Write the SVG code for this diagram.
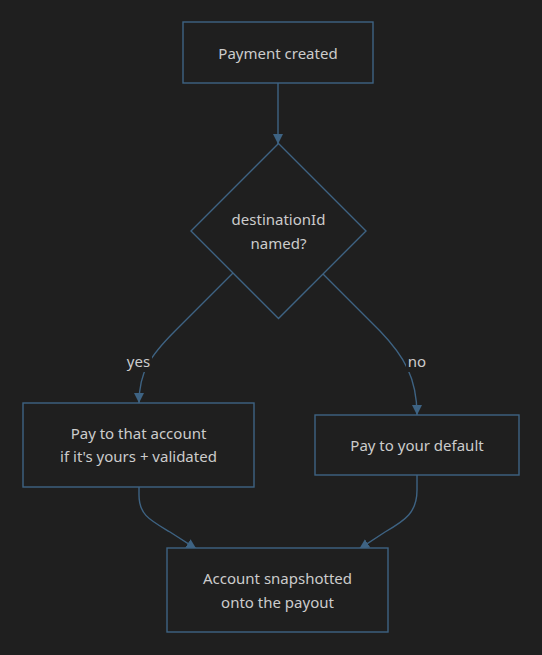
<svg xmlns="http://www.w3.org/2000/svg" width="542" height="655" viewBox="0 0 542 655">
<defs>
<style>
.bg{fill:#1f1f1f}
.node{fill:#1f1f1f;stroke:#3e6383;stroke-width:1.4}
.edge{fill:none;stroke:#3e6383;stroke-width:1.4}
.t{font-family:"Noto Sans","Open Sans",sans-serif;font-size:15px;fill:#cccccc;text-anchor:middle}
.lbl{fill:#1f1f1f}
</style>
<marker id="arr" viewBox="0 0 10 10" refX="10" refY="5" markerWidth="10" markerHeight="10" markerUnits="userSpaceOnUse" orient="auto">
<path d="M0,0 L10,5 L0,10 z" fill="#3e6383"/>
</marker>
</defs>
<rect class="bg" x="0" y="0" width="542" height="655"/>
<g id="connectors">
<path class="edge" d="M278,83 L278,144" marker-end="url(#arr)"/>
<path class="edge" d="M233,273 L175,331 C150,356 139,372 139,403" marker-end="url(#arr)"/>
<path class="edge" d="M323,274 L380,331 C404,356 417,378 417,415" marker-end="url(#arr)"/>
<path class="edge" d="M139,487 L139,495 C139,515 150,520 170,532 L196.3,548.8" marker-end="url(#arr)"/>
<path class="edge" d="M417,475 L417,490 C417,512 406,520 385,532 L359.3,548.8" marker-end="url(#arr)"/>
<rect class="lbl" x="125" y="352" width="27" height="20"/>
<text class="t" x="138.5" y="367">yes</text>
<rect class="lbl" x="406" y="352" width="22" height="20"/>
<text class="t" x="417" y="367">no</text>
</g>
<g id="node-created">
<rect class="node" x="183" y="22" width="190" height="61"/>
<text class="t" x="278" y="59">Payment created</text>
</g>
<g id="node-decision">
<polygon class="node" points="278.5,143.5 366,231 278.5,318.5 191,231"/>
<text class="t" x="278.5" y="224.5">destinationId</text>
<text class="t" x="278.5" y="248.5">named?</text>
</g>
<g id="node-that">
<rect class="node" x="23" y="403" width="231" height="84"/>
<text class="t" x="138.5" y="439">Pay to that account</text>
<text class="t" x="138.5" y="462">if it's yours + validated</text>
</g>
<g id="node-default">
<rect class="node" x="315" y="415" width="204" height="60"/>
<text class="t" x="417" y="450.5">Pay to your default</text>
</g>
<g id="node-snapshot">
<rect class="node" x="167" y="548" width="221" height="84"/>
<text class="t" x="277.5" y="583.5">Account snapshotted</text>
<text class="t" x="277.5" y="607.5">onto the payout</text>
</g>
</svg>
